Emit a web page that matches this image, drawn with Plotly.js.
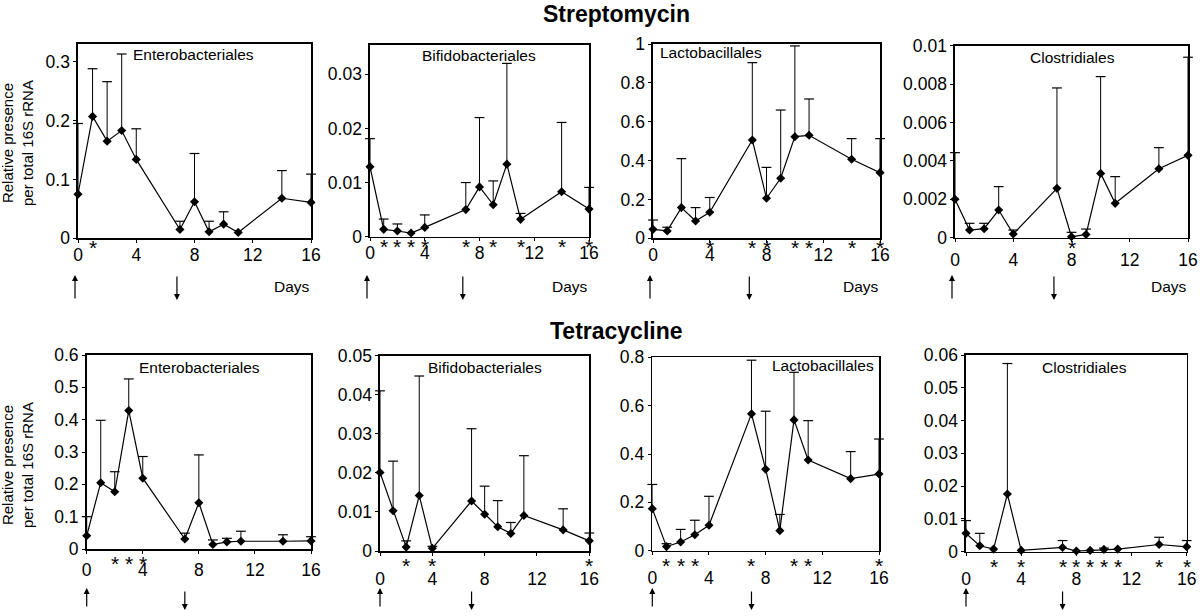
<!DOCTYPE html>
<html><head><meta charset="utf-8">
<script src="https://cdn.plot.ly/plotly-3.0.1.min.js"></script>
<style>html,body{margin:0;padding:0;background:#fff}#chart{width:1200px;height:616px}</style>
</head><body><div id="chart"></div>
<script>
// ---------- DATA ----------
const days = [0, 1, 2, 3, 4, 7, 8, 9, 10, 11, 14, 16];
const xTicks = [0, 4, 8, 12, 16];

// Streptomycin
const strepEnteroMean = [0.075, 0.207, 0.165, 0.183, 0.134, 0.015, 0.062, 0.011, 0.024, 0.010, 0.068, 0.061];
const strepEnteroErr  = [0.120, 0.081, 0.101, 0.130, 0.052, 0.014, 0.082, 0.018, 0.021, null, 0.047, 0.048];
const strepEnteroStars = [1];

const strepBifidoMean = [0.0129, 0.00136, 0.00105, 0.00068, 0.00172, 0.0050, 0.0092, 0.0059, 0.0134, 0.0032, 0.0083, 0.0051];
const strepBifidoErr  = [0.0052, 0.0019, 0.0013, null, 0.0023, 0.0050, 0.0128, 0.0044, 0.0186, 0.0011, 0.0128, 0.0040];
const strepBifidoStars = [1, 2, 3, 4, 7, 9, 11, 14, 16];

const strepLactoMean = [0.046, 0.038, 0.158, 0.089, 0.134, 0.506, 0.206, 0.309, 0.523, 0.530, 0.407, 0.338];
const strepLactoErr  = [0.048, 0.019, 0.252, 0.069, 0.076, 0.398, 0.159, 0.351, 0.467, 0.187, 0.106, 0.175];
const strepLactoStars = [4, 7, 8, 10, 11, 14, 16];

const strepClosMean = [0.0020, 0.0004, 0.00047, 0.00144, 0.00019, 0.00257, 0.00005, 0.00017, 0.00335, 0.00179, 0.00359, 0.00429];
const strepClosErr  = [0.00243, 0.00035, 0.00028, 0.00122, 0.00021, 0.00523, 0.00023, 0.00028, 0.00504, 0.00139, 0.0011, 0.00511];
const strepClosStars = [8];

// Tetracycline
const tetEnteroMean = [0.041, 0.205, 0.177, 0.428, 0.219, 0.031, 0.143, 0.014, 0.022, 0.024, 0.024, 0.025];
const tetEnteroErr  = [0.059, 0.193, 0.062, 0.098, 0.067, 0.018, 0.148, 0.014, 0.011, 0.031, 0.020, 0.013];
const tetEnteroStars = [2, 3, 4];

const tetBifidoMean = [0.0201, 0.0103, 0.0010, 0.0142, 0.0007, 0.0128, 0.0094, 0.0062, 0.0045, 0.0091, 0.0054, 0.0026];
const tetBifidoErr  = [0.0209, 0.0127, 0.0016, 0.0306, 0.0005, 0.0185, 0.0072, 0.0067, 0.0028, 0.0153, 0.0054, 0.0020];
const tetBifidoStars = [2, 4, 16];

const tetLactoMean = [0.174, 0.017, 0.036, 0.066, 0.105, 0.566, 0.337, 0.083, 0.541, 0.375, 0.298, 0.317];
const tetLactoErr  = [0.100, 0.012, 0.052, 0.060, 0.120, 0.222, 0.240, 0.067, 0.197, 0.163, 0.112, 0.145];
const tetLactoStars = [1, 2, 3, 7, 10, 11, 16];

const tetClosMean = [0.0056, 0.0018, 0.0008, 0.0176, 0.0004, 0.0013, 0.0002, 0.0004, 0.0007, 0.0008, 0.0022, 0.0015];
const tetClosErr  = [0.0039, 0.0038, null, 0.0398, null, 0.0021, null, null, 0.0004, null, 0.0022, 0.0019];
const tetClosStars = [2, 4, 7, 8, 9, 10, 11, 14, 16];

const groupTitles = ["Streptomycin", "Tetracycline"];
const orderNames = ["Enterobacteriales", "Bifidobacteriales", "Lactobacillales", "Clostridiales"];
const yTitle = "Relative presence<br>per total 16S rRNA";
const daysLabel = "Days";
const startDay = 0, stopDay = 7;

// ---------- LAYOUT CONFIG ----------
const W = 1200, H = 616;
const FONT = "Liberation Sans, Arial, Helvetica, sans-serif";
const px = v => v / W, py = v => 1 - v / H;

const panels = [
  {mean: strepEnteroMean, err: strepEnteroErr, stars: strepEnteroStars, name: 0, box: [78, 311, 44, 238.3], top: 0.33, dtick: 0.1, lab: [193, 54, 'center'], row: 0, stand: -3},
  {mean: strepBifidoMean, err: strepBifidoErr, stars: strepBifidoStars, name: 1, box: [370, 589, 45, 236.7], top: 0.0354, dtick: 0.01, lab: [479, 55, 'center'], row: 0, stand: -3},
  {mean: strepLactoMean, err: strepLactoErr, stars: strepLactoStars, name: 2, box: [653, 880, 44, 238.3], top: 1, dtick: 0.2, lab: [658, 53, 'left'], row: 0, stand: -3},
  {mean: strepClosMean, err: strepClosErr, stars: strepClosStars, name: 3, box: [955, 1188, 45.7, 237.7], top: 0.01, dtick: 0.002, lab: [1072, 57, 'center'], row: 0, stand: 3},
  {mean: tetEnteroMean, err: tetEnteroErr, stars: tetEnteroStars, name: 0, box: [86.7, 311, 355, 549], top: 0.6, dtick: 0.1, lab: [199, 367, 'center'], row: 1, stand: 1},
  {mean: tetBifidoMean, err: tetBifidoErr, stars: tetBifidoStars, name: 1, box: [380, 589.3, 355.7, 551], top: 0.05, dtick: 0.01, lab: [485, 367, 'center'], row: 1, stand: 8},
  {mean: tetLactoMean, err: tetLactoErr, stars: tetLactoStars, name: 2, box: [652.3, 879, 357.3, 550.7], top: 0.8, dtick: 0.2, lab: [876, 366, 'right'], row: 1, stand: 8},
  {mean: tetClosMean, err: tetClosErr, stars: tetClosStars, name: 3, box: [966, 1186.7, 355, 551.7], top: 0.06, dtick: 0.01, lab: [1084, 367, 'center'], row: 1, stand: 8},
];

const traces = [];
const layout = {
  width: W, height: H,
  margin: {l: 0, r: 0, t: 0, b: 0},
  paper_bgcolor: '#fff', plot_bgcolor: '#fff',
  showlegend: false,
  font: {family: FONT, color: '#000'},
  annotations: []
};

panels.forEach((p, i) => {
  const n = i + 1;
  const xk = 'xaxis' + (n === 1 ? '' : n), yk = 'yaxis' + (n === 1 ? '' : n);
  const xr = 'x' + (n === 1 ? '' : n), yr = 'y' + (n === 1 ? '' : n);
  const [l, r, t, b] = p.box;
  const axCommon = {
    showline: true, mirror: true, linecolor: '#000', linewidth: 1.6,
    ticks: 'outside', ticklen: 3, tickwidth: 1, tickcolor: '#000',
    showgrid: false, zeroline: false, fixedrange: true, layer: 'below traces',
    tickfont: {family: FONT, size: 17.5, color: '#000'}
  };
  layout[xk] = Object.assign({}, axCommon, {
    domain: [px(l), px(r)], range: [0, 16], tickmode: 'array', tickvals: xTicks,
    anchor: yr, ticklabelstandoff: p.stand
  });
  layout[yk] = Object.assign({}, axCommon, {
    domain: [py(b), py(t)], range: [0, p.top], tick0: 0, dtick: p.dtick, anchor: xr
  });

  // error bars (upper only)
  const ex = [], ey = [], cx = [], cy = [];
  days.forEach((d, k) => {
    if (p.err[k] != null) {
      ex.push(d, d, null); ey.push(p.mean[k], p.mean[k] + p.err[k], null);
      cx.push(d); cy.push(p.mean[k] + p.err[k]);
    }
  });
  traces.push({x: ex, y: ey, xaxis: xr, yaxis: yr, mode: 'lines', line: {color: '#000', width: 1}, hoverinfo: 'skip'});
  traces.push({x: cx, y: cy, xaxis: xr, yaxis: yr, mode: 'markers', cliponaxis: false,
    marker: {symbol: 'line-ew', size: 7, line: {color: '#000', width: 1.2}}, hoverinfo: 'skip'});
  traces.push({x: days, y: p.mean, xaxis: xr, yaxis: yr, mode: 'lines+markers', cliponaxis: false,
    line: {color: '#000', width: 1.2}, marker: {symbol: 'diamond', size: 7, color: '#000'}, hoverinfo: 'skip'});

  // significance asterisks
  p.stars.forEach(d => layout.annotations.push({
    xref: xr, yref: yr + ' domain', x: d, y: 0, yanchor: 'top', yshift: p.row === 0 ? 4 : -1,
    text: '*', showarrow: false, font: {family: FONT, size: 21, color: '#000'}
  }));

  // order label
  layout.annotations.push({
    xref: 'paper', yref: 'paper', x: px(p.lab[0]), y: py(p.lab[1]),
    xanchor: p.lab[2], yanchor: 'middle', text: orderNames[p.name], showarrow: false,
    font: {family: FONT, size: 15.5, color: '#000'}
  });

  // start / stop arrows
  const arr = p.row === 0 ? {up: 275, down: 300, len: 25, xs: -3} : {up: 588, down: 610, len: 20, xs: 0};
  layout.annotations.push({
    xref: xr, yref: 'paper', x: startDay, y: py(arr.up), xshift: arr.xs, ax: 0, ay: arr.len,
    text: '', showarrow: true, arrowhead: 2, arrowsize: 1, arrowwidth: 1.2, arrowcolor: '#000', standoff: 0
  });
  layout.annotations.push({
    xref: xr, yref: 'paper', x: stopDay, y: py(arr.down), xshift: arr.xs, ax: 0, ay: -arr.len,
    text: '', showarrow: true, arrowhead: 2, arrowsize: 1, arrowwidth: 1.2, arrowcolor: '#000', standoff: 0
  });

  if (p.row === 0) {
    layout.annotations.push({
      xref: 'paper', yref: 'paper', x: px(r + 1), y: py(287), xanchor: 'right', yanchor: 'middle',
      text: daysLabel, showarrow: false, font: {family: FONT, size: 15.5, color: '#000'}
    });
  }
});

// group titles
[[14, 0], [331, 1]].forEach(([yp, g]) => layout.annotations.push({
  xref: 'paper', yref: 'paper', x: px(616), y: py(yp), xanchor: 'center', yanchor: 'middle',
  text: '<b>' + groupTitles[g] + '</b>', showarrow: false, font: {family: FONT, size: 23, color: '#000'}
}));

// y-axis titles
[143, 465].forEach(yp => layout.annotations.push({
  xref: 'paper', yref: 'paper', x: px(17), y: py(yp), xanchor: 'center', yanchor: 'middle',
  text: yTitle, textangle: -90, showarrow: false, font: {family: FONT, size: 15, color: '#000'}
}));

Plotly.newPlot('chart', traces, layout, {staticPlot: true, displayModeBar: false});
</script>
</body></html>
